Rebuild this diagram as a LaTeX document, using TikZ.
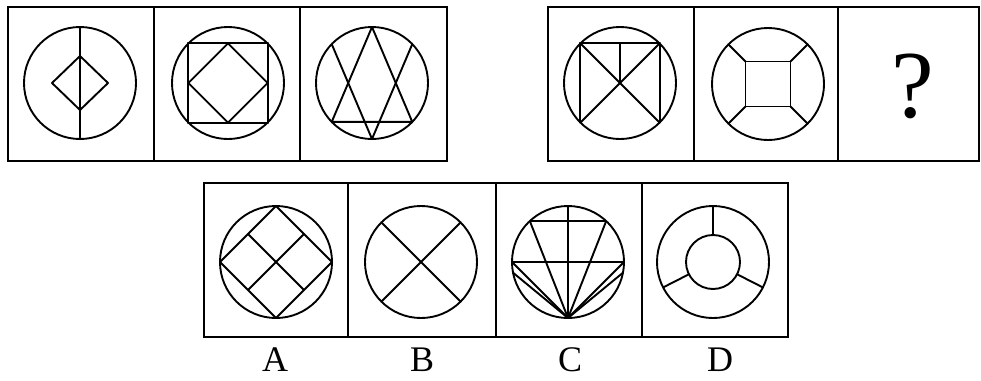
\documentclass[tikz,border=0pt]{standalone}
\usepackage{fontspec}
\setmainfont{Liberation Serif}
\usepackage{tikz}

\begin{document}
\begin{tikzpicture}[
  x=1pt, y=1pt,
  frame/.style={draw, line width=2.4pt},
  fig/.style={line width=1.9pt, line join=round},
  lab/.style={font=\fontsize{36}{36}\selectfont, inner sep=0pt},
  qmark/.style={font=\fontsize{96}{96}\selectfont, inner sep=0pt},
]
\useasboundingbox (0,0) rectangle (981,-380);

% Top left row
\draw[frame] (8,-7) rectangle (447,-161);
\draw[frame] (154,-7) -- (154,-161);
\draw[frame] (300,-7) -- (300,-161);

\begin{scope}[shift={(80,-83)}, fig]
  \draw (0,0) circle (56);
  \draw (0,56) -- (0,-56);
  \draw (0,27) -- (28,0) -- (0,-27) -- (-28,0) -- cycle;
\end{scope}

\begin{scope}[shift={(228,-83)}, fig]
  \draw (0,0) circle (56);
  \draw (-39.6,-39.6) rectangle (39.6,39.6);
  \draw (0,39.6) -- (39.6,0) -- (0,-39.6) -- (-39.6,0) -- cycle;
\end{scope}

\begin{scope}[shift={(372,-83)}, fig]
  \draw (0,0) circle (56);
  \draw (90:56) -- (224:56) -- (316:56) -- cycle;
  \draw (136:56) -- (270:56) -- (44:56);
\end{scope}

% Top right row
\draw[frame] (548,-7) rectangle (979,-161);
\draw[frame] (694,-7) -- (694,-161);
\draw[frame] (838,-7) -- (838,-161);

\begin{scope}[shift={(620,-83)}, fig]
  \draw (0,0) circle (56);
  \coordinate (tl) at (135:56);
  \coordinate (tr) at (45:56);
  \coordinate (bl) at (225:56);
  \coordinate (br) at (315:56);
  \draw (bl) -- (tl) -- (tr) -- (br);
  \draw (tl) -- (br);
  \draw (tr) -- (bl);
  \draw (0,39.6) -- (0,0);
\end{scope}

\begin{scope}[shift={(768,-84)}, fig]
  \draw (0,0) circle (56);
  \draw (-22.5,-22.5) rectangle (22.5,22.5);
  \foreach \a in {45,135,225,315}
    \draw (\a:31.8) -- (\a:56);
\end{scope}

\node[qmark] (q) at (913,-86) {?};

% Answer row
\draw[frame] (204,-183) rectangle (788,-337);
\foreach \x in {348,496,642}
  \draw[frame] (\x,-183) -- (\x,-337);

\begin{scope}[shift={(276,-262)}, fig]
  \draw (0,0) circle (56);
  \draw (0,56) -- (56,0) -- (0,-56) -- (-56,0) -- cycle;
  \draw (-28,28) -- (28,-28);
  \draw (28,28) -- (-28,-28);
\end{scope}

\begin{scope}[shift={(421,-262)}, fig]
  \draw (0,0) circle (56);
  \draw (135:56) -- (315:56);
  \draw (45:56) -- (225:56);
\end{scope}

\begin{scope}[shift={(568,-262)}, fig]
  \draw (0,0) circle (56);
  \coordinate (bot) at (270:56);
  \draw (0,56) -- (bot);
  \draw (133:56) -- (47:56);
  \draw (180:56) -- (0:56);
  \foreach \a in {133,47,180,0,191,349}
    \draw (bot) -- (\a:56);
\end{scope}

\begin{scope}[shift={(713,-262)}, fig]
  \draw (0,0) circle (56);
  \draw (0,0) circle (27);
  \foreach \a in {90,207,333}
    \draw (\a:27) -- (\a:56);
\end{scope}

\node[lab] (la) at (275,-360) {A};
\node[lab] (lb) at (422,-360) {B};
\node[lab] (lc) at (570,-360) {C};
\node[lab] (ld) at (720,-360) {D};
\end{tikzpicture}
\end{document}
